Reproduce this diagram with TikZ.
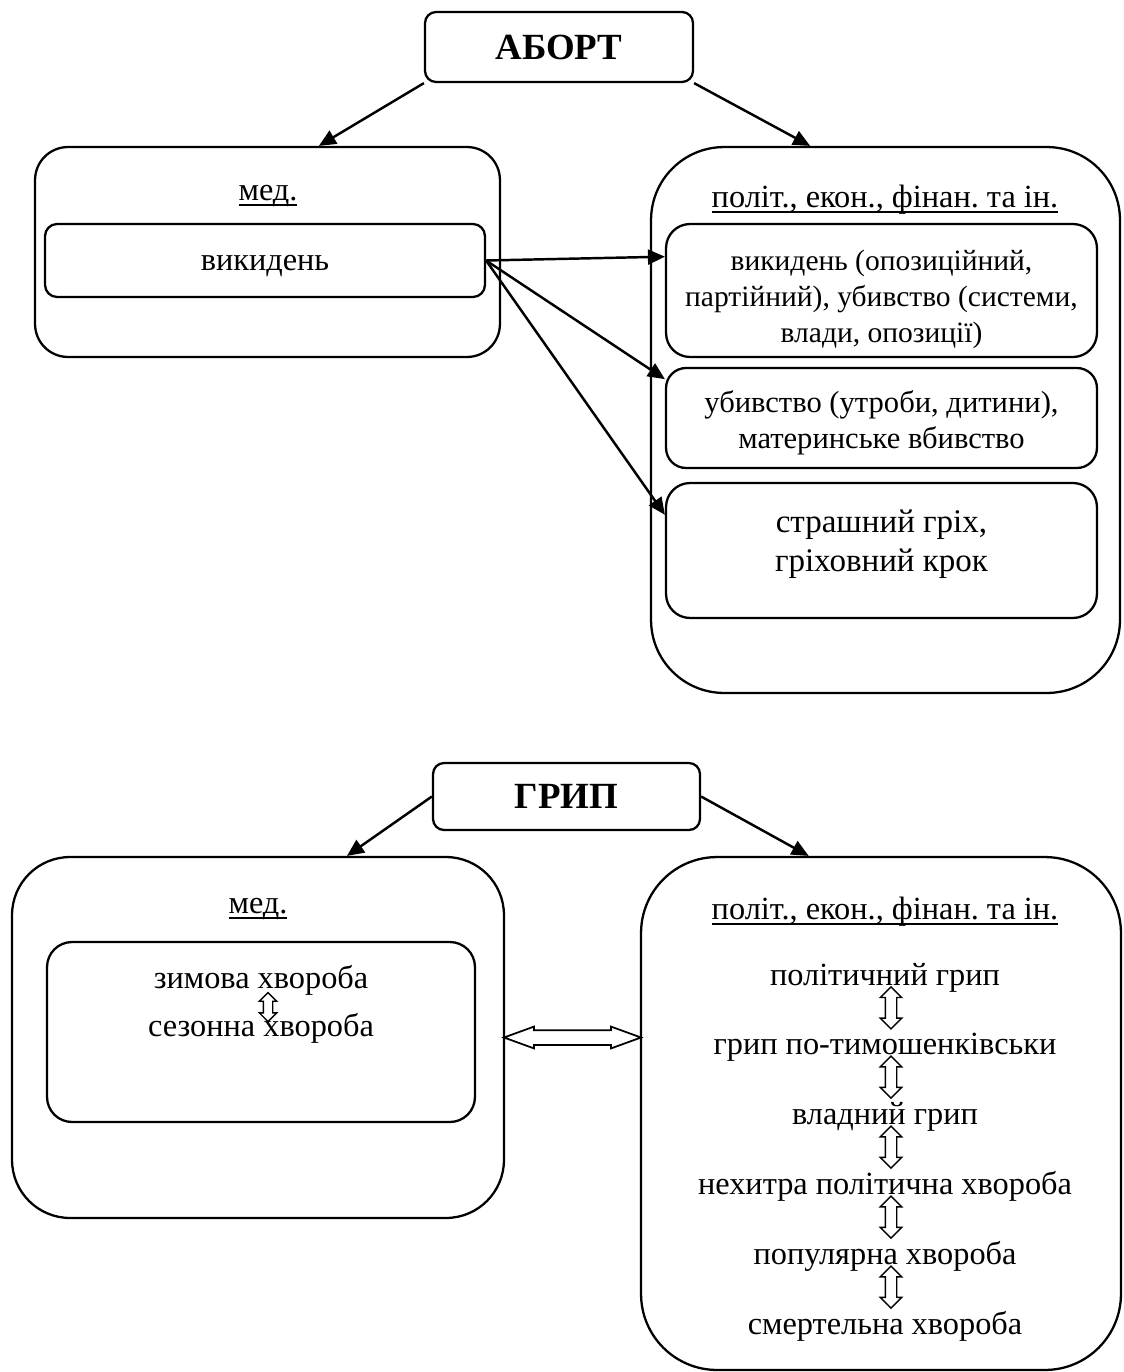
\documentclass[tikz,border=0pt]{standalone}
\usepackage{fontspec}
\setmainfont{Liberation Serif}
\frenchspacing
\usetikzlibrary{arrows.meta,shapes.arrows,calc}

\newcommand{\ulin}[1]{\setbox0\hbox{#1}\rlap{\rule[-3.4pt]{\wd0}{1.1pt}}\box0}

\tikzset{
	box/.style={draw, line width=1.3pt, inner sep=0pt},
	ttl/.style={box, font=\fontsize{21}{24}\selectfont\bfseries},
	txt/.style={anchor=base, inner sep=0pt, font=\fontsize{18.4}{20.4}\selectfont},
	boxtxt/.style={inner sep=0pt, align=center, font=\fontsize{#1}{20.4}\selectfont},
	boxtxt/.default=18.4,
	arr/.style={line width=1.4pt, -{Triangle[length=0.34cm,width=0.3cm]}},
	updown/.style={draw, line width=0.8pt, fill=white, double arrow, rotate=90, inner sep=0pt,
		text height=0.2cm, text depth=0pt, minimum height=0.84cm, double arrow head extend=0.1cm},
	sidearr/.style={draw, line width=1pt, fill=white, double arrow, inner sep=0pt,
		text height=0.26cm, text depth=0pt, minimum height=2.74cm,
		double arrow head extend=0.07cm, double arrow tip angle=40}
}

\begin{document}
\begin{tikzpicture}[x=0.02cm, y=-0.02cm]
	\useasboundingbox (0,0) rectangle (1123,1372);
	% Аборт
	\node[ttl, rounded corners=0.22cm, minimum width=5.36cm, minimum height=1.4cm] (abort) at (559,47) {АБОРТ};
	\node[box, rounded corners=0.66cm, minimum width=9.3cm, minimum height=4.2cm] (medA) at (267.5,252) {};
	\node[box, rounded corners=1.46cm, minimum width=9.38cm, minimum height=10.92cm] (polA) at (885.5,420) {};
	\node[txt] (medAlbl) at (268,200) {\ulin{мед.}};
	\node[txt] (polAlbl) at (885,207) {\ulin{політ., екон., фінан. та ін.}};
	\node[box, rounded corners=0.24cm, minimum width=8.8cm, minimum height=1.46cm] (vyk) at (265,260.5) {};
	\node[boxtxt] (vykt) at ($(vyk.center)+(0,6)$) {викидень};
	\node[box, rounded corners=0.48cm, minimum width=8.62cm, minimum height=2.66cm] (polA1) at (881.5,290.5) {};
	\node[boxtxt=16.8] (polA1t) at ($(polA1.center)+(0,9)$)
		{викидень (опозиційний,\\партійний), убивство (системи,\\влади, опозиції)};
	\node[box, rounded corners=0.4cm, minimum width=8.62cm, minimum height=2cm] (polA2) at (881.5,418) {};
	\node[boxtxt=17.4] (polA2t) at ($(polA2.center)+(0,5)$)
		{убивство (утроби, дитини),\\материнське вбивство};
	\node[box, rounded corners=0.48cm, minimum width=8.62cm, minimum height=2.7cm] (polA3) at (881.5,550.5) {};
	\node[boxtxt=18.8] (polA3t) at ($(polA3.center)+(0,-6)$)
		{страшний гріх,\\[2pt]гріховний крок};
	\draw[arr] (abort.south west) -- ($(medA.north west)!0.61!(medA.north east)$);
	\draw[arr] (abort.south east) -- ($(polA.north west)!0.34!(polA.north east)$);
	\draw[arr] (vyk.east) -- ($(polA1.north west)!0.25!(polA1.south west)$);
	\draw[arr] (vyk.east) -- ($(polA2.north west)!0.12!(polA2.south west)$);
	\draw[arr] (vyk.east) -- ($(polA3.north west)!0.24!(polA3.south west)$);
	% Грип
	\node[ttl, rounded corners=0.22cm, minimum width=5.34cm, minimum height=1.34cm] (grip) at (566.5,796.5) {ГРИП};
	\node[box, rounded corners=1.16cm, minimum width=9.84cm, minimum height=7.22cm] (medB) at (258,1037.5) {};
	\node[box, rounded corners=1.52cm, minimum width=9.6cm, minimum height=10.26cm] (polB) at (881,1113.5) {};
	\node[txt] (medBlbl) at (258,913) {\ulin{мед.}};
	\node[txt] (polBlbl) at (885,919) {\ulin{політ., екон., фінан. та ін.}};
	\node[box, rounded corners=0.5cm, minimum width=8.56cm, minimum height=3.6cm] (inB) at (261,1032) {};
	\node[txt] (zim) at (261,988) {зимова хвороба};
	\node[txt] (ses) at (261,1036) {сезонна хвороба};
	\node[updown, text height=0.16cm, minimum height=0.58cm, double arrow head extend=0.08cm] (zimses) at (268,1007) {};
	\node[txt] (g1) at (885,985) {політичний грип};
	\node[txt] (g2) at (885,1054) {грип по-тимошенківськи};
	\node[txt] (g3) at (885,1124) {владний грип};
	\node[txt] (g4) at (885,1194) {нехитра політична хвороба};
	\node[txt] (g5) at (885,1264) {популярна хвороба};
	\node[txt] (g6) at (885,1334) {смертельна хвороба};
	\foreach \a/\b in {g1/g2,g2/g3,g3/g4,g4/g5,g5/g6}
	\node[updown] (\a\b) at ($(\a.base)!0.33!(\b.base)+(6,0)$) {};
	\node[sidearr] (medpol) at ($(medB.east)!0.5!(medB.east -| polB.west)$) {};
	\draw[arr] (grip.west) -- ($(medB.north west)!0.68!(medB.north east)$);
	\draw[arr] (grip.east) -- ($(polB.north west)!0.35!(polB.north east)$);
\end{tikzpicture}
\end{document}
